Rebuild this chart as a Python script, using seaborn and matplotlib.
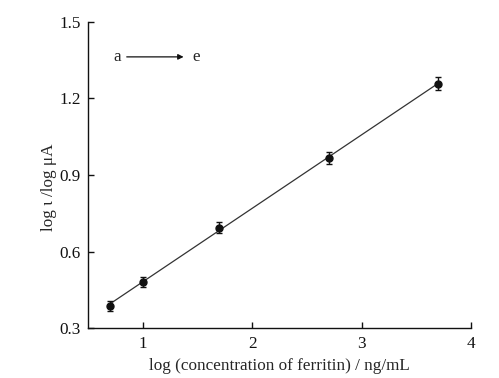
import numpy as np
import pandas as pd
import matplotlib
matplotlib.use('Agg')
import matplotlib.pyplot as plt
import seaborn as sns

# data
log_conc = [0.7, 1.0, 1.7, 2.7, 3.7]
log_current = [0.387, 0.482, 0.694, 0.967, 1.258]
err = [0.02, 0.02, 0.02, 0.025, 0.025]

df = pd.DataFrame({'x': log_conc, 'y': log_current, 'err': err})

sns.set_style('ticks')
plt.rcParams['font.family'] = ['Liberation Serif', 'DejaVu Serif']

fig = plt.figure(figsize=(4.99, 3.78), dpi=100)
ax = fig.add_axes([0.176, 0.132, 0.768, 0.810])

# linear fit line over the data range
sns.regplot(data=df, x='x', y='y', ci=None, scatter=False, ax=ax,
            line_kws={'color': '#333333', 'lw': 0.9})
ax.errorbar(df['x'], df['y'], yerr=df['err'], fmt='o', color='#111111',
            ms=5, capsize=2.5, elinewidth=1, capthick=1)

ax.set_xlim(0.5, 4)
ax.set_ylim(0.3, 1.5)
ax.set_xticks([1, 2, 3, 4])
ax.set_yticks([0.3, 0.6, 0.9, 1.2, 1.5])
ax.set_yticklabels(['0.3', '0.6', '0.9', '1.2', '1.5'])
ax.tick_params(direction='in', length=4, width=1, labelsize=12.3, colors='#111111')
ax.tick_params(axis='x', pad=6)
ax.tick_params(axis='y', pad=5)
for s in ['left', 'bottom']:
    ax.spines[s].set_linewidth(1)
    ax.spines[s].set_color('#111111')
sns.despine(ax=ax)

ax.set_xlabel('log (concentration of ferritin) / ng/mL', fontsize=12.3, labelpad=4)
ax.set_ylabel('log ι /log μA', fontsize=12.3)
ax.yaxis.set_label_coords(-0.08, 0.46)

ax.annotate('', xy=(1.4, 1.363), xytext=(0.83, 1.363),
            arrowprops=dict(arrowstyle='-|>', color='#111111', lw=0.9,
                            mutation_scale=8))
ax.text(0.77, 1.363, 'a', fontsize=12.3, ha='center', va='center')
ax.text(1.49, 1.363, 'e', fontsize=12.3, ha='center', va='center')

fig.savefig('out.png', dpi=100)
